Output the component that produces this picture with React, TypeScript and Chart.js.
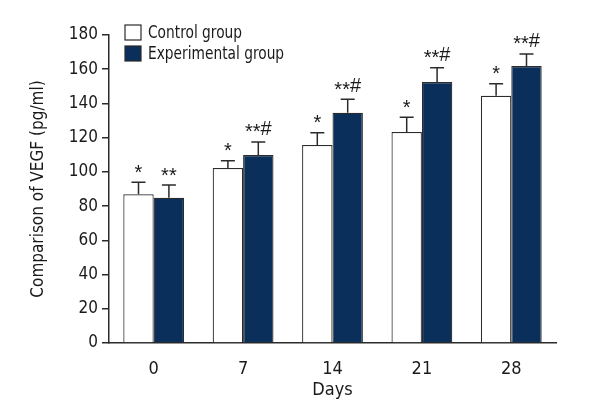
import React, { useEffect, useRef } from "react";
import { Chart, registerables } from "chart.js";

Chart.register(...registerables);

const days = ["0", "7", "14", "21", "28"];
const controlValues = [86.9, 102.3, 115.7, 123.3, 144.5];
const controlErrors = [7.1, 4.2, 7.2, 8.6, 7.0];
const controlMarks = ["*", "*", "*", "*", "*"];
const experimentalValues = [84.9, 109.9, 134.6, 152.5, 161.9];
const experimentalErrors = [7.4, 7.6, 7.8, 8.4, 7.0];
const experimentalMarks = ["**", "**#", "**#", "**#", "**#"];
const yTicks = [0, 20, 40, 60, 80, 100, 120, 140, 160, 180];

const NAVY = "#0b2f5b";
const INK = "#2b2b2b";
const FONT = "'DejaVu Sans Condensed', sans-serif";

const errorsPlugin = {
  id: "errorsAndMarks",
  afterDatasetsDraw(chart: any) {
    const ctx = chart.ctx;
    const y = chart.scales.y;
    const errs = [controlErrors, experimentalErrors];
    const marks = [controlMarks, experimentalMarks];
    chart.data.datasets.forEach((ds: any, di: number) => {
      const meta = chart.getDatasetMeta(di);
      meta.data.forEach((el: any, i: number) => {
        const v = ds.data[i] as number;
        const top = y.getPixelForValue(v + errs[di][i]);
        ctx.save();
        ctx.strokeStyle = INK;
        ctx.lineWidth = 1.5;
        ctx.beginPath();
        ctx.moveTo(el.x, el.y);
        ctx.lineTo(el.x, top);
        ctx.moveTo(el.x - 7, top);
        ctx.lineTo(el.x + 7, top);
        ctx.stroke();
        ctx.fillStyle = "#1a1a1a";
        ctx.font = "20px 'Liberation Sans', 'DejaVu Sans', sans-serif";
        ctx.textAlign = "left";
        ctx.textBaseline = "alphabetic";
        const text = marks[di][i];
        const total = ctx.measureText(text).width;
        let cx = el.x - total / 2;
        const base = top - 7;
        for (const ch of text) {
          const w = ctx.measureText(ch).width;
          ctx.fillText(ch, cx, ch === "*" ? base + 3.5 : base);
          cx += w;
        }
        ctx.restore();
      });
    });
  },
};

const legendPlugin = {
  id: "customLegend",
  afterDraw(chart: any) {
    const ctx = chart.ctx;
    const items = chart.data.datasets.map((ds: any) => ({
      label: ds.label,
      fill: ds.backgroundColor,
    }));
    ctx.save();
    items.forEach((it: any, i: number) => {
      const bx = 125;
      const by = 25 + i * 21;
      ctx.fillStyle = it.fill;
      ctx.fillRect(bx, by, 16, 15);
      ctx.strokeStyle = INK;
      ctx.lineWidth = 1.2;
      ctx.strokeRect(bx, by, 16, 15);
      ctx.save();
      ctx.translate(148, by + 8);
      ctx.scale(0.85, 1);
      ctx.fillStyle = "#1a1a1a";
      ctx.font = "18px " + FONT;
      ctx.textAlign = "left";
      ctx.textBaseline = "middle";
      ctx.fillText(it.label, 0, 0);
      ctx.restore();
    });
    ctx.restore();
  },
};

export default function App() {
  const ref = useRef<HTMLCanvasElement | null>(null);

  useEffect(() => {
    if (!ref.current) return;
    const chart = new Chart(ref.current, {
      type: "bar",
      data: {
        labels: days,
        datasets: [
          {
            label: "Control group",
            data: controlValues,
            backgroundColor: "#ffffff",
            borderColor: INK,
            borderWidth: 1.2,
            categoryPercentage: 0.68,
            barPercentage: 1.0,
          },
          {
            label: "Experimental group",
            data: experimentalValues,
            backgroundColor: NAVY,
            borderColor: INK,
            borderWidth: 1.2,
            categoryPercentage: 0.68,
            barPercentage: 1.0,
          },
        ],
      },
      options: {
        animation: false,
        responsive: false,
        maintainAspectRatio: false,
        layout: { padding: { left: 20, right: 44, top: 35, bottom: 10 } },
        plugins: {
          legend: { display: false },
          tooltip: { enabled: false },
        },
        scales: {
          x: {
            grid: { display: false, drawTicks: false },
            border: { display: true, color: INK, width: 1.5 },
            ticks: {
              padding: 16,
              color: "#1a1a1a",
              font: { family: FONT, size: 18 },
            },
            title: {
              display: true,
              text: "Days",
              color: "#1a1a1a",
              font: { family: FONT, size: 18 },
              padding: { top: 0, bottom: 9 },
            },
            afterFit(scale: any) {
              scale.height = 67;
            },
          },
          y: {
            min: 0,
            max: 180,
            afterBuildTicks(scale: any) {
              scale.ticks = yTicks.map((v) => ({ value: v }));
            },
            grid: {
              display: true,
              drawOnChartArea: false,
              drawTicks: true,
              tickLength: 7,
              color: INK,
              lineWidth: 1.5,
            },
            border: { display: true, color: INK, width: 1.5 },
            ticks: {
              padding: 4,
              color: "#1a1a1a",
              font: { family: FONT, size: 17 },
            },
            title: {
              display: true,
              text: "Comparison of VEGF (pg/ml)",
              color: "#1a1a1a",
              font: { family: FONT, size: 17 },
              padding: { top: 8, bottom: 0 },
            },
            afterFit(scale: any) {
              scale.width = 89;
            },
          },
        },
      },
      plugins: [errorsPlugin, legendPlugin],
    } as any);
    return () => chart.destroy();
  }, []);

  return (
    <div style={{ position: "fixed", left: 0, top: 0, width: 600, height: 420, background: "#fff" }}>
      <canvas ref={ref} width={600} height={420} style={{ width: 600, height: 420 }} />
    </div>
  );
}
